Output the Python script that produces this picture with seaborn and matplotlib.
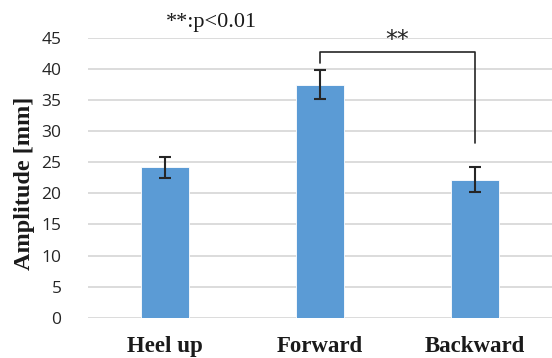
import matplotlib
matplotlib.use("Agg")
import matplotlib.pyplot as plt
import seaborn as sns
import pandas as pd

categories = ["Heel up", "Forward", "Backward"]
amplitude = [24.2, 37.5, 22.2]
errors = [1.7, 2.35, 2.05]
yticks = [0, 5, 10, 15, 20, 25, 30, 35, 40, 45]
ylabel = "Amplitude [mm]"
sig_note = "**:p<0.01"
sig_mark = "**"
bracket_pair = ["Forward", "Backward"]
bracket_top = 42.7
bracket_left_end = 41.0
bracket_right_end = 28.1

sns.set_theme(style="white")
df = pd.DataFrame({"cat": categories, "val": amplitude})

fig = plt.figure(figsize=(5.52, 3.58), dpi=100)
ax = fig.add_axes([88/552, 1 - 317.7/358, 1 - 88/552, (317.7 - 38)/358])

sns.barplot(data=df, x="cat", y="val", color="#5B9BD5", saturation=1,
            width=0.31, errorbar=None, ax=ax, zorder=3,
            edgecolor="white", linewidth=0.6)
ax.errorbar(range(len(categories)), amplitude, yerr=errors, fmt="none",
            ecolor="#262626", elinewidth=1.5, capsize=4, capthick=1.5, zorder=4)

ax.set_ylim(0, 45)
ax.set_xlim(-0.5, 2.5)
ax.set_yticks(yticks)
ax.grid(axis="y", color="#D9D9D9", linewidth=1.3, zorder=0)
ax.set_axisbelow(True)
for s in ax.spines.values():
    s.set_visible(False)
ax.tick_params(axis="both", length=0)
ax.tick_params(axis="y", pad=19)
ax.tick_params(axis="x", pad=13)
for t in ax.get_yticklabels():
    t.set_fontfamily("Open Sans")
    t.set_fontsize(12.5)
    t.set_color("#262626")
for t in ax.get_xticklabels():
    t.set_fontfamily("Liberation Serif")
    t.set_fontweight("bold")
    t.set_fontsize(16.5)
    t.set_color("#1a1a1a")
ax.set_xlabel("")
ax.set_ylabel("")
fig.text(25/552, 1 - 183/358, ylabel, rotation=90, ha="center", va="center",
         fontfamily="Liberation Serif", fontweight="bold", fontsize=17.5, color="#1a1a1a")

# significance bracket
xl = categories.index(bracket_pair[0])
xr = categories.index(bracket_pair[1])
ax.plot([xl, xl, xr, xr], [bracket_left_end, bracket_top, bracket_top, bracket_right_end],
        color="#262626", linewidth=1.2, clip_on=False, zorder=5)
ax.text((xl + xr) / 2, bracket_top + 0.1, sig_mark, ha="center", va="bottom",
        fontfamily="DejaVu Sans", fontsize=17, color="#262626")

fig.text(211/552, 1 - 22/358, sig_note, ha="center", va="center",
         fontfamily="Liberation Serif", fontsize=16, color="#1a1a1a")

fig.savefig("out.png", dpi=100)
